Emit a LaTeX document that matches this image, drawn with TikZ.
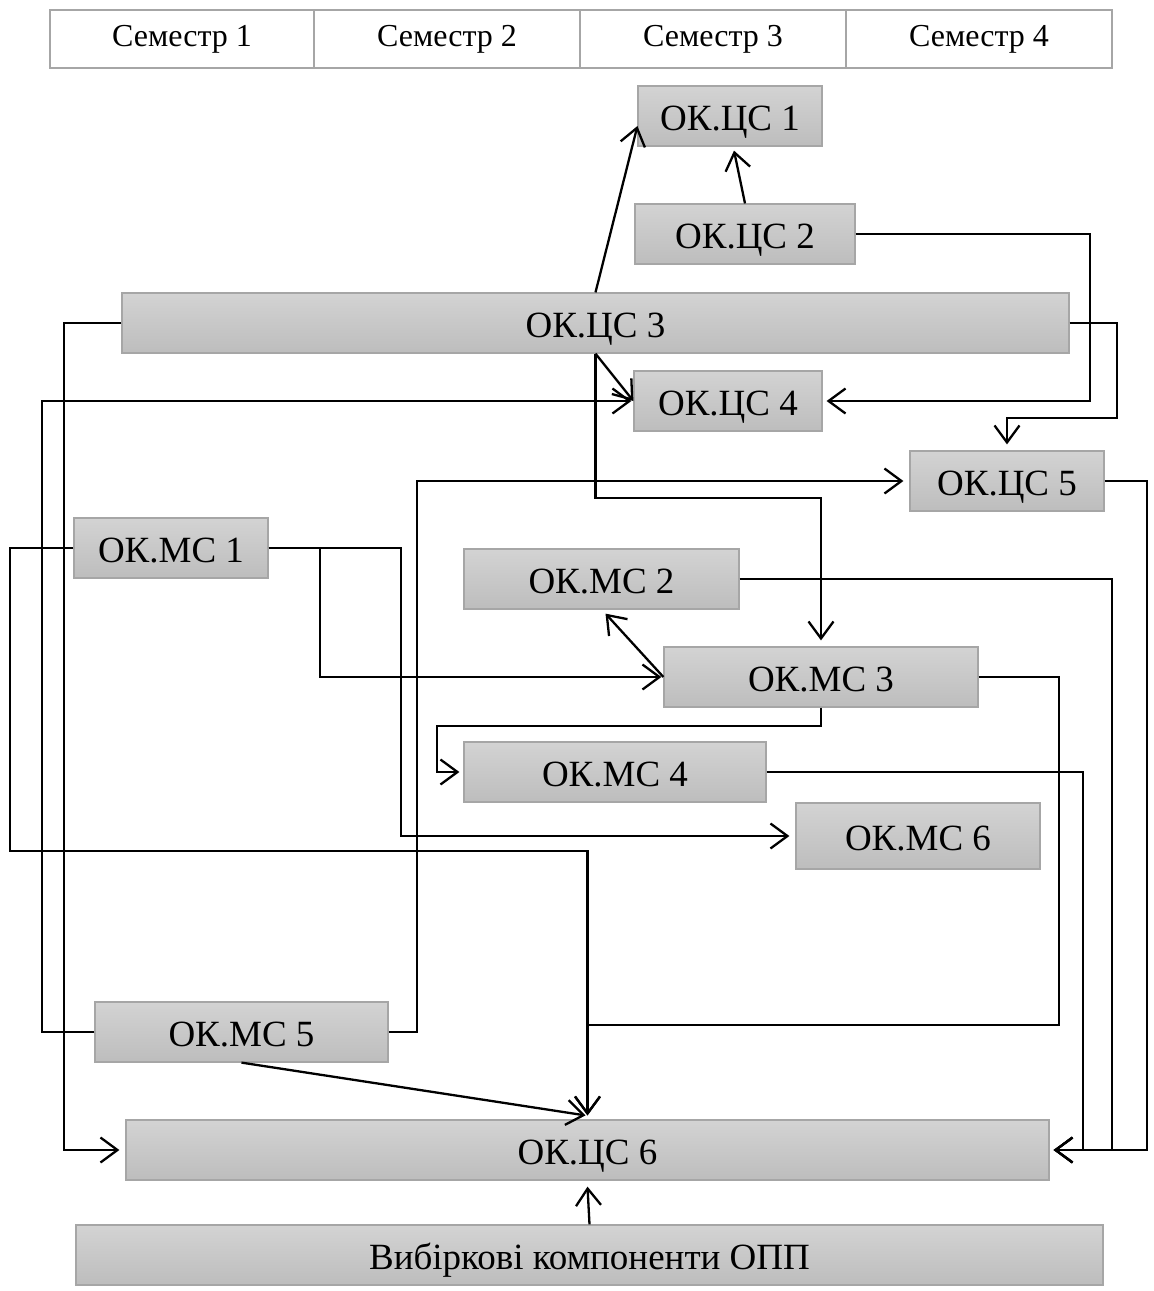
\documentclass[tikz,border=0pt]{standalone}
\usepackage{fontspec}
\setmainfont{Liberation Serif}
\usetikzlibrary{arrows.meta,calc}
\definecolor{bordergray}{HTML}{A6A6A6}
\definecolor{boxtop}{HTML}{D3D3D3}
\definecolor{boxbot}{HTML}{BDBDBD}
\tikzset{
  box/.style={draw=bordergray, line width=0.6pt, top color=boxtop, bottom color=boxbot,
    inner sep=0pt, text height=14pt, text depth=0pt,
    font=\fontsize{18.5pt}{20pt}\selectfont, text=black},
  semcell/.style={draw=bordergray, line width=1pt, fill=white, inner sep=0pt,
    font=\fontsize{16pt}{18pt}\selectfont},
  conn/.style={line width=1.15pt, black},
  arr/.style={conn, -{Straight Barb[length=8.5pt, width=12.5pt, line width=1.15pt]}},
}
\newcommand\mybox[7][box]{%
  \node[#1, minimum width={(#5-#3)*0.5pt}, minimum height={(#6-#4)*0.5pt}]
    (#2) at ({(#3+#5)/2},{(#4+#6)/2}) {#7};}
\begin{document}
\begin{tikzpicture}[x=0.5pt,y=-0.5pt]
\useasboundingbox (0,0) rectangle (1154,1291);
% header
\mybox[semcell]{s1}{50}{10}{314}{68}{Семестр 1}
\mybox[semcell]{s2}{314}{10}{580}{68}{Семестр 2}
\mybox[semcell]{s3}{580}{10}{846}{68}{Семестр 3}
\mybox[semcell]{s4}{846}{10}{1112}{68}{Семестр 4}
% boxes
\mybox{c1}{638}{86}{822}{146}{ОК.ЦС 1}
\mybox{c2}{635}{204}{855}{264}{ОК.ЦС 2}
\mybox{c3}{122}{293}{1069}{353}{ОК.ЦС 3}
\mybox{c4}{634}{371}{822}{431}{ОК.ЦС 4}
\mybox{c5}{910}{451}{1104}{511}{ОК.ЦС 5}
\mybox{m1}{74}{518}{268}{578}{ОК.МС 1}
\mybox{m2}{464}{549}{739}{609}{ОК.МС 2}
\mybox{m3}{664}{647}{978}{707}{ОК.МС 3}
\mybox{m4}{464}{742}{766}{802}{ОК.МС 4}
\mybox{m6}{796}{803}{1040}{869}{ОК.МС 6}
\mybox{m5}{95}{1002}{388}{1062}{ОК.МС 5}
\mybox{c6}{126}{1120}{1049}{1180}{ОК.ЦС 6}
\mybox{v}{76}{1225}{1103}{1285}{Вибіркові компоненти ОПП}
% connectors
\draw[arr] (c3.north) -- ([yshift=-5pt]c1.west);
\draw[arr] (c2.north) -- ([xshift=2pt,yshift=-2pt]c1.south);
\draw[arr] (c2.east) -| (1090,401) -- ([xshift=2pt]c4.east);
\draw[arr] (c3.east) -| (1117,418) -| ([yshift=3pt]c5.north);
\draw[arr] (c3.south) -- (c4.west);
\draw[arr] (c3.south) |- (700,498) -| ([yshift=3pt]m3.north);
\draw[arr] (c3.west) -| (64,700) |- ([xshift=-3pt]c6.west);
\draw[arr] (m5.west) -| (42,600) |- ([xshift=-1pt]c4.west);
\draw[arr] (m5.east) -| (417,700) |- ([xshift=-3pt]c5.west);
\draw[arr] (c5.east) -| (1147,800) |- ([xshift=2pt]c6.east);
\draw[arr] (m1.west) -| (10,851) -| ([yshift=2pt]c6.north);
\draw[arr] (m1.east) -| (320,677) -- ([xshift=-1pt]m3.west);
\draw[arr] (m1.east) -| (401,836) -- ([xshift=-3pt]m6.west);
\draw[arr] (m2.east) -| (1112,1150) -- ([xshift=2pt]c6.east);
\draw[arr] (m3.west) -- ([xshift=2pt,yshift=-2pt]m2.south);
\draw[arr] (m3.south) |- (437,726) |- ([xshift=-2pt]m4.west);
\draw[arr] (m3.east) -| (1059,1025) -| ([yshift=2pt]c6.north);
\draw[arr] (m4.east) -| (1083,1150) -- ([xshift=2pt]c6.east);
\draw[arr] (m5.south) -- ([xshift=-1pt,yshift=2pt]c6.north);
\draw[arr] (v.north) -- ([yshift=-3pt]c6.south);
\end{tikzpicture}
\end{document}
